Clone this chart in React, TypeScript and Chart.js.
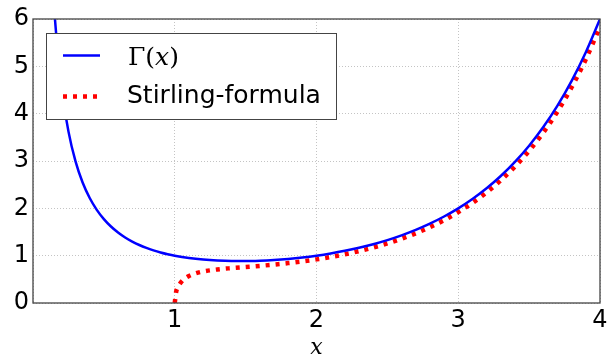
import React, { useEffect, useRef } from "react";
import { Chart, registerables } from "chart.js";

Chart.register(...registerables);

// Gamma function samples
const gammaX = [0.1, 0.15, 0.2, 0.25, 0.3, 0.35, 0.4, 0.45, 0.5, 0.55, 0.6, 0.65, 0.7, 0.75, 0.8, 0.85, 0.9, 0.95, 1.0,
  1.1, 1.2, 1.3, 1.4, 1.5, 1.6, 1.7, 1.8, 1.9, 2.0, 2.1, 2.2, 2.3, 2.4, 2.5, 2.6, 2.7, 2.8, 2.9, 3.0,
  3.1, 3.2, 3.3, 3.4, 3.5, 3.6, 3.7, 3.8, 3.9, 4.0];
const gammaY = [9.5135, 6.2203, 4.5908, 3.6256, 2.9916, 2.5461, 2.2182, 1.9681, 1.7725, 1.6161, 1.4892, 1.3848, 1.2981, 1.2254, 1.1642, 1.1125, 1.0686, 1.0315, 1.0,
  0.9514, 0.9182, 0.8975, 0.8873, 0.8862, 0.8935, 0.9086, 0.9314, 0.9618, 1.0, 1.0465, 1.1018, 1.1667, 1.2422, 1.3293, 1.4296, 1.5447, 1.6765, 1.8274, 2.0,
  2.1976, 2.424, 2.6834, 2.9812, 3.3234, 3.717, 4.1707, 4.6942, 5.2993, 6.0];

// Stirling-formula samples
const stirlingX = [1.0, 1.01, 1.02, 1.05, 1.1, 1.15, 1.2, 1.3, 1.4, 1.5, 1.6, 1.7, 1.8, 1.9, 2.0,
  2.1, 2.2, 2.3, 2.4, 2.5, 2.6, 2.7, 2.8, 2.9, 3.0, 3.1, 3.2, 3.3, 3.4, 3.5, 3.6, 3.7, 3.8, 3.9, 4.0];
const stirlingY = [0, 0.237, 0.3214, 0.459, 0.5697, 0.6286, 0.6652, 0.7087, 0.7366, 0.7602, 0.7843, 0.8114, 0.8428, 0.8794, 0.9221,
  0.972, 1.0294, 1.0955, 1.1715, 1.2584, 1.358, 1.4717, 1.6015, 1.7497, 1.919, 2.1127, 2.3346, 2.5888, 2.8803, 3.215, 3.6004, 4.0445, 4.5573, 5.1496, 5.8362];

const xTicks = [0, 1, 2, 3, 4];
const yTicks = [0, 1, 2, 3, 4, 5, 6];
const seriesNames = ["Γ(x)", "Stirling-formula"];

const BLUE = "#0000ff";
const RED = "#ff0000";

const framePlugin = {
  id: "frameLegend",
  afterDraw(chart: any) {
    const { ctx, chartArea } = chart;
    const { left, right, top, bottom } = chartArea;
    ctx.save();
    // axes frame
    ctx.strokeStyle = "#444444";
    ctx.lineWidth = 1.3;
    ctx.setLineDash([]);
    ctx.strokeRect(left, top, right - left, bottom - top);

    // legend box
    const bx = 46.5, by = 33.5, bw = 290, bh = 86;
    ctx.fillStyle = "#ffffff";
    ctx.fillRect(bx, by, bw, bh);
    ctx.strokeStyle = "#444444";
    ctx.lineWidth = 1;
    ctx.strokeRect(bx, by, bw, bh);

    // blue sample
    ctx.strokeStyle = BLUE;
    ctx.lineWidth = 2.5;
    ctx.beginPath();
    ctx.moveTo(63, 55.5);
    ctx.lineTo(100, 55.5);
    ctx.stroke();

    // red sample
    ctx.strokeStyle = RED;
    ctx.lineWidth = 4.5;
    ctx.setLineDash([4, 6]);
    ctx.lineCap = "butt";
    ctx.beginPath();
    ctx.moveTo(63, 96.5);
    ctx.lineTo(101, 96.5);
    ctx.stroke();
    ctx.setLineDash([]);

    // labels
    ctx.fillStyle = "#000000";
    ctx.textBaseline = "alphabetic";
    ctx.textAlign = "left";
    let x = 128;
    const serif = '25px "DejaVu Serif"';
    const serifIt = 'italic 25px "DejaVu Serif"';
    const name0 = seriesNames[0];
    const parts: [string, string][] = [
      [name0.slice(0, 2), serif],
      [name0.slice(2, 3), serifIt],
      [name0.slice(3), serif],
    ];
    for (const [t, f] of parts) {
      ctx.font = f;
      ctx.fillText(t, x, 65);
      x += ctx.measureText(t).width;
    }
    ctx.font = '25px "DejaVu Sans"';
    ctx.fillText(seriesNames[1], 127, 103);
    ctx.restore();
  },
};

export default function App() {
  const ref = useRef<HTMLCanvasElement>(null);
  useEffect(() => {
    if (!ref.current) return;
    const chart = new Chart(ref.current, {
      type: "line",
      data: {
        datasets: [
          {
            label: seriesNames[0],
            data: gammaX.map((x, i) => ({ x, y: gammaY[i] })),
            borderColor: BLUE,
            borderWidth: 2.5,
            pointRadius: 0,
            cubicInterpolationMode: "monotone",
            fill: false,
          },
          {
            label: seriesNames[1],
            data: stirlingX.map((x, i) => ({ x, y: stirlingY[i] })),
            borderColor: RED,
            borderWidth: 4.5,
            borderDash: [4, 6],
            borderCapStyle: "butt",
            pointRadius: 0,
            cubicInterpolationMode: "monotone",
            fill: false,
          },
        ],
      },
      options: {
        animation: false,
        responsive: false,
        layout: { padding: { left: 0, top: 19, right: 11, bottom: 0 } },
        plugins: { legend: { display: false }, tooltip: { enabled: false } },
        scales: {
          x: {
            type: "linear",
            min: 0,
            max: 4,
            afterBuildTicks: (s: any) => {
              s.ticks = xTicks.map((v) => ({ value: v }));
            },
            afterFit: (s: any) => {
              s.height = 55;
              s.paddingLeft = 0;
              s.paddingRight = 0;
            },
            grid: { color: "#c4c4c4", lineWidth: 1, drawTicks: false },
            border: { display: false, dash: [1, 2] },
            ticks: {
              color: "#000",
              padding: 3,
              maxRotation: 0,
              font: { family: "DejaVu Sans", size: 24 },
              callback: (v: any) => (v === 0 ? "" : String(v)),
            },
            title: {
              display: true,
              text: "x",
              color: "#000",
              padding: { top: 0, bottom: 0 },
              font: { family: "DejaVu Serif", size: 22, style: "italic", lineHeight: 0.85 },
            },
          },
          y: {
            type: "linear",
            min: 0,
            max: 6,
            afterBuildTicks: (s: any) => {
              s.ticks = yTicks.map((v) => ({ value: v }));
            },
            afterFit: (s: any) => {
              s.width = 33;
              s.paddingTop = 0;
              s.paddingBottom = 0;
            },
            grid: { color: "#c4c4c4", lineWidth: 1, drawTicks: false },
            border: { display: false, dash: [1, 2] },
            ticks: {
              color: "#000",
              padding: 4,
              font: { family: "DejaVu Sans", size: 24 },
            },
          },
        },
      },
      plugins: [framePlugin],
    } as any);
    return () => chart.destroy();
  }, []);
  return (
    <div style={{ position: "absolute", left: 0, top: 0, width: 611, height: 358, background: "#fff" }}>
      <canvas ref={ref} width={611} height={358} />
    </div>
  );
}
